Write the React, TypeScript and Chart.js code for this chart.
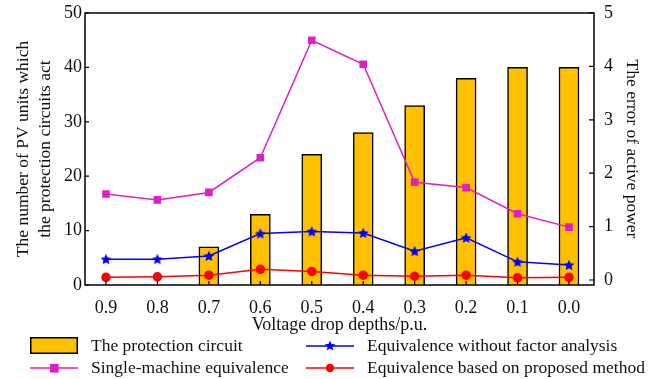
import React, { useEffect, useRef } from 'react';
import { Chart, registerables } from 'chart.js';

Chart.register(...registerables);

const categories = ['0.9', '0.8', '0.7', '0.6', '0.5', '0.4', '0.3', '0.2', '0.1', '0.0'];
const protectionCircuit = [0, 0, 7, 13, 24, 28, 33, 38, 40, 40];
const singleMachine = [1.61, 1.5, 1.64, 2.29, 4.49, 4.04, 1.83, 1.73, 1.24, 0.99];
const withoutFactor = [0.39, 0.39, 0.45, 0.87, 0.91, 0.88, 0.54, 0.79, 0.34, 0.28];
const proposedMethod = [0.05, 0.06, 0.09, 0.2, 0.16, 0.09, 0.07, 0.09, 0.04, 0.05];
const leftTicks = [0, 10, 20, 30, 40, 50];
const rightTicks = [0, 1, 2, 3, 4, 5];

const FONT = "'Liberation Serif', 'Times New Roman', serif";
const TEXT = '#111';
const BAR_COLOR = '#FFC000';
const MAGENTA = '#E01EC8';
const BLUE = '#0000FF';
const RED = '#FF0000';

function starPoints(cx: number, cy: number, R: number, r: number): [number, number][] {
  const pts: [number, number][] = [];
  for (let k = 0; k < 10; k++) {
    const a = -Math.PI / 2 + (k * Math.PI) / 5;
    const rr = k % 2 ? r : R;
    pts.push([cx + rr * Math.cos(a), cy + rr * Math.sin(a)]);
  }
  return pts;
}

function makeStar(color: string, size: number) {
  const c = document.createElement('canvas');
  c.width = size;
  c.height = size;
  const g = c.getContext('2d')!;
  const pts = starPoints(size / 2, size / 2 + 0.5, size / 2 - 0.3, (size / 2) * 0.45);
  g.beginPath();
  pts.forEach(([x, y], i) => (i ? g.lineTo(x, y) : g.moveTo(x, y)));
  g.closePath();
  g.fillStyle = color;
  g.fill();
  return c;
}

const toXY = (arr: number[]) => arr.map((v, i) => ({ x: i, y: v }));

const framePlugin = {
  id: 'frame',
  afterDraw(chart: any) {
    const { ctx, chartArea, scales } = chart;
    const { left, right, top, bottom } = chartArea;
    ctx.save();
    ctx.strokeStyle = '#000';
    ctx.lineWidth = 1.5;
    ctx.strokeRect(left, top, right - left, bottom - top);
    ctx.lineWidth = 1.2;
    ctx.beginPath();
    leftTicks.forEach((v) => {
      const y = scales.y.getPixelForValue(v);
      ctx.moveTo(left, y);
      ctx.lineTo(left + 4, y);
    });
    rightTicks.forEach((v) => {
      const y = scales.y1.getPixelForValue(v);
      ctx.moveTo(right, y);
      ctx.lineTo(right - 5, y);
    });
    categories.forEach((_, i) => {
      const x = scales.x.getPixelForValue(i);
      ctx.moveTo(x, bottom);
      ctx.lineTo(x, bottom - 4);
    });
    ctx.stroke();
    ctx.restore();
  },
};

export default function App() {
  const ref = useRef<HTMLCanvasElement | null>(null);

  useEffect(() => {
    if (!ref.current) return;
    const star = makeStar(BLUE, 12);
    const font = { family: FONT, size: 17.5, lineHeight: 1.257 };
    const tickFont = { family: FONT, size: 18, lineHeight: 1.2 };
    const chart = new Chart(ref.current, {
      type: 'bar',
      data: {
        datasets: [
          {
            type: 'line',
            label: 'Single-machine equivalence',
            data: toXY(singleMachine),
            yAxisID: 'y1',
            borderColor: MAGENTA,
            backgroundColor: MAGENTA,
            borderWidth: 1.5,
            pointStyle: 'rect',
            pointRadius: 4.3,
            order: 1,
          } as any,
          {
            type: 'line',
            label: 'Equivalence without factor analysis',
            data: toXY(withoutFactor),
            yAxisID: 'y1',
            borderColor: BLUE,
            backgroundColor: BLUE,
            borderWidth: 1.5,
            pointStyle: star,
            pointRadius: 5,
            order: 2,
          } as any,
          {
            type: 'line',
            label: 'Equivalence based on proposed method',
            data: toXY(proposedMethod),
            yAxisID: 'y1',
            borderColor: RED,
            backgroundColor: RED,
            borderWidth: 1.5,
            pointStyle: 'circle',
            pointRadius: 4,
            order: 3,
          } as any,
          {
            type: 'bar',
            label: 'The protection circuit',
            data: toXY(protectionCircuit),
            yAxisID: 'y',
            backgroundColor: BAR_COLOR,
            borderColor: '#000',
            borderWidth: 1.5,
            barThickness: 20,
            order: 10,
          } as any,
        ],
      },
      options: {
        animation: false,
        responsive: false,
        events: [],
        layout: { padding: { top: 13, bottom: 43, left: 0, right: 0 } },
        plugins: { legend: { display: false }, tooltip: { enabled: false } },
        scales: {
          x: {
            type: 'linear',
            offset: false,
            min: -0.408,
            max: 9.486,
            grid: { display: false, drawTicks: false, offset: false },
            border: { display: false },
            afterBuildTicks: (scale: any) => {
              scale.ticks = categories.map((_, i) => ({ value: i }));
            },
            afterFit: (scale: any) => {
              scale.height = 51;
              scale.paddingLeft = 0;
              scale.paddingRight = 0;
            },
            ticks: {
              color: TEXT,
              font: tickFont,
              padding: 12,
              maxRotation: 0,
              autoSkip: false,
              callback: (v: any) => categories[Math.round(Number(v))] ?? '',
            },
            title: {
              display: true,
              text: 'Voltage drop depths/p.u.',
              color: TEXT,
              font: { family: FONT, size: 18, lineHeight: 1.2 },
              padding: { top: 0, bottom: 0 },
            },
          },
          y: {
            type: 'linear',
            position: 'left',
            min: 0,
            max: 50,
            grid: { display: false, drawTicks: false },
            border: { display: false },
            afterBuildTicks: (scale: any) => {
              scale.ticks = leftTicks.map((v) => ({ value: v }));
            },
            afterFit: (scale: any) => {
              scale.width = 85;
              scale.paddingTop = 0;
              scale.paddingBottom = 0;
            },
            ticks: { color: TEXT, font: tickFont, padding: 3 },
            title: {
              display: true,
              text: ['The number of PV units which', 'the protection circuits act'],
              color: TEXT,
              font,
              padding: { top: 12, bottom: 0 },
            },
          },
          y1: {
            type: 'linear',
            position: 'right',
            min: -0.094,
            max: 5,
            grid: { display: false, drawTicks: false },
            border: { display: false },
            afterBuildTicks: (scale: any) => {
              scale.ticks = rightTicks.map((v) => ({ value: v }));
            },
            afterFit: (scale: any) => {
              scale.width = 64;
              scale.paddingTop = 0;
              scale.paddingBottom = 0;
            },
            ticks: { color: TEXT, font: tickFont, padding: 10 },
            title: {
              display: true,
              text: 'The error of active power',
              color: TEXT,
              font,
              padding: { top: 15, bottom: 0 },
            },
          },
        },
      } as any,
      plugins: [framePlugin],
    });
    return () => chart.destroy();
  }, []);

  const textStyle: React.CSSProperties = {
    position: 'absolute',
    fontFamily: FONT,
    fontSize: '17.5px',
    lineHeight: '20px',
    color: TEXT,
    whiteSpace: 'nowrap',
    margin: 0,
  };

  const starPath = starPoints(24, 9, 5.6, 2.5)
    .map(([x, y]) => `${x},${y}`)
    .join(' ');

  return (
    <div style={{ position: 'fixed', left: 0, top: 0, width: 658, height: 379, background: '#fff' }}>
      <canvas ref={ref} width={658} height={379} style={{ display: 'block', width: 658, height: 379 }} />
      {/* legend */}
      <svg style={{ position: 'absolute', left: 30, top: 337 }} width={48} height={17}>
        <rect x={0.75} y={0.75} width={46.5} height={15.5} fill={BAR_COLOR} stroke="#000" strokeWidth={1.5} />
      </svg>
      <div style={{ ...textStyle, left: 91, top: 335 }}>The protection circuit</div>

      <svg style={{ position: 'absolute', left: 30, top: 359 }} width={48} height={18}>
        <line x1={0} y1={9} x2={48} y2={9} stroke={MAGENTA} strokeWidth={1.5} />
        <rect x={20} y={5} width={8.6} height={8.6} fill={MAGENTA} />
      </svg>
      <div style={{ ...textStyle, left: 91, top: 357 }}>Single-machine equivalence</div>

      <svg style={{ position: 'absolute', left: 306, top: 337 }} width={48} height={18}>
        <line x1={0} y1={9} x2={48} y2={9} stroke={BLUE} strokeWidth={1.5} />
        <polygon points={starPath} fill={BLUE} />
      </svg>
      <div style={{ ...textStyle, left: 367, top: 335 }}>Equivalence without factor analysis</div>

      <svg style={{ position: 'absolute', left: 306, top: 359 }} width={48} height={18}>
        <line x1={0} y1={9} x2={48} y2={9} stroke={RED} strokeWidth={1.5} />
        <circle cx={24} cy={9} r={4.2} fill={RED} />
      </svg>
      <div style={{ ...textStyle, left: 367, top: 357 }}>Equivalence based on proposed method</div>
    </div>
  );
}
